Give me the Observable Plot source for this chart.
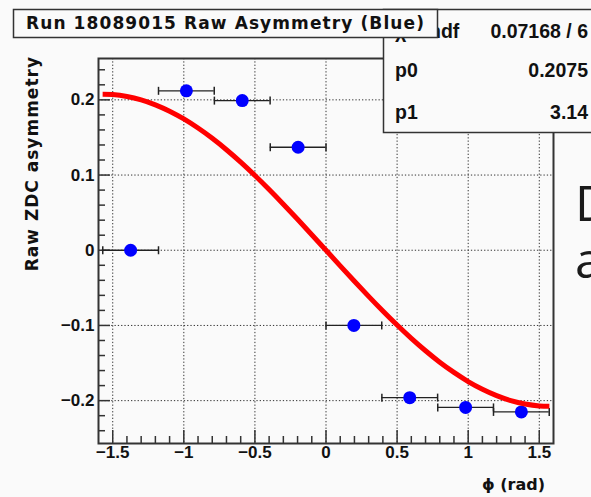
<!DOCTYPE html>
<html>
<head>
<meta charset="utf-8">
<script src="https://cdn.jsdelivr.net/npm/d3@7"></script>
<script src="https://cdn.jsdelivr.net/npm/@observablehq/plot@0.6"></script>
<style>
  html, body { margin: 0; padding: 0; background: #fafafa; overflow: hidden; }
  #chart svg { display: block; }
</style>
</head>
<body>
<div id="chart"></div>
<script>
// ---- Text ----
const titleText = "Run 18089015 Raw Asymmetry (Blue)";
const xTitle = "ϕ (rad)";
const yTitle = "Raw ZDC asymmetry";
const statNames = ["χ² / ndf", "p0", "p1"];
const statValues = ["0.07168 / 6", "0.2075", "3.14"];
const sideText = ["D", "a"];

// ---- Data points (bin centres, half-widths, asymmetry) ----
const phi    = [-1.374, -0.982, -0.589, -0.196, 0.196, 0.589, 0.982, 1.374];
const phiErr = [0.196, 0.196, 0.196, 0.196, 0.196, 0.196, 0.196, 0.196];
const asym   = [0.000, 0.212, 0.199, 0.137, -0.100, -0.196, -0.209, -0.215];

// ---- Fit curve ----
const fitPhi  = [-1.571, -1.5, -1.4, -1.3, -1.2, -1.1, -1.0, -0.9, -0.8, -0.7, -0.6, -0.5, -0.4, -0.3, -0.2, -0.1, 0,
                 0.1, 0.2, 0.3, 0.4, 0.5, 0.6, 0.7, 0.8, 0.9, 1.0, 1.1, 1.2, 1.3, 1.4, 1.5, 1.571];
const fitAsym = [0.2075, 0.2070, 0.2045, 0.2000, 0.1934, 0.1849, 0.1746, 0.1625, 0.1489, 0.1337, 0.1172, 0.0995, 0.0808, 0.0613, 0.0412, 0.0207, 0,
                 -0.0207, -0.0412, -0.0613, -0.0808, -0.0995, -0.1172, -0.1337, -0.1489, -0.1625, -0.1746, -0.1849, -0.1934, -0.2000, -0.2045, -0.2070, -0.2075];

// ---- Axes ----
const xDomain = [-1.6, 1.6];
const yDomain = [-0.257, 0.255];
const xTicks = [-1.5, -1, -0.5, 0, 0.5, 1, 1.5];
const xTickLabels = ["−1.5", "−1", "−0.5", "0", "0.5", "1", "1.5"];
const yTicks = [-0.2, -0.1, 0, 0.1, 0.2];
const yTickLabels = ["−0.2", "−0.1", "0", "0.1", "0.2"];
const xMinorTicks = [-1.4, -1.3, -1.2, -1.1, -0.9, -0.8, -0.7, -0.6, -0.4, -0.3, -0.2, -0.1,
                     0.1, 0.2, 0.3, 0.4, 0.6, 0.7, 0.8, 0.9, 1.1, 1.2, 1.3, 1.4];
const yMinorTicks = [-0.24, -0.22, -0.18, -0.16, -0.14, -0.12, -0.08, -0.06, -0.04, -0.02,
                     0.02, 0.04, 0.06, 0.08, 0.12, 0.14, 0.16, 0.18, 0.22, 0.24];

// ---- Build tables ----
const points = phi.map((p, i) => ({phi: p, lo: p - phiErr[i], hi: p + phiErr[i], asym: asym[i]}));
const fit = fitPhi.map((p, i) => ({phi: p, asym: fitAsym[i]}));

const W = 591, H = 497;
const M = {left: 98, right: 38, top: 58, bottom: 54};
const innerW = W - M.left - M.right;
const innerH = H - M.top - M.bottom;

const capSymbol = {
  draw(ctx, size) {
    const h = Math.sqrt(size / Math.PI);
    ctx.moveTo(0, -h);
    ctx.lineTo(0, h);
  }
};

const labelFont = "Liberation Sans, Arial, sans-serif";
const ink = "#111";

const chart = Plot.plot({
  width: W,
  height: H,
  marginLeft: M.left,
  marginRight: M.right,
  marginTop: M.top,
  marginBottom: M.bottom,
  style: {background: "#fafafa", fontFamily: labelFont},
  x: {domain: xDomain, axis: null},
  y: {domain: yDomain, axis: null},
  marks: [
    Plot.gridX(xTicks, {stroke: "#333", strokeOpacity: 1, strokeWidth: 1, strokeDasharray: "1.3,2"}),
    Plot.gridY(yTicks, {stroke: "#333", strokeOpacity: 1, strokeWidth: 1, strokeDasharray: "1.3,2"}),
    // ticks (inside the frame, bottom and left only)
    Plot.tickX(xTicks, {x: d => d, stroke: "#333", strokeWidth: 1.5, insetTop: innerH - 13}),
    Plot.tickX(xMinorTicks, {x: d => d, stroke: "#333", strokeWidth: 1.5, insetTop: innerH - 7}),
    Plot.tickY(yTicks, {y: d => d, stroke: "#333", strokeWidth: 1.5, insetRight: innerW - 12}),
    Plot.tickY(yMinorTicks, {y: d => d, stroke: "#333", strokeWidth: 1.5, insetRight: innerW - 7}),
    // tick labels
    Plot.text(xTicks, {x: d => d, frameAnchor: "bottom", dy: 14, text: (d, i) => xTickLabels[i],
      fontSize: 17, fontWeight: "bold", fontFamily: labelFont, fill: ink}),
    Plot.text(yTicks, {y: d => d, frameAnchor: "left", dx: -4, textAnchor: "end", text: (d, i) => yTickLabels[i],
      fontSize: 17, fontWeight: "bold", fontFamily: labelFont, fill: ink}),
    // horizontal error bars with end caps
    Plot.ruleY(points, {y: "asym", x1: "lo", x2: "hi", stroke: "#222", strokeWidth: 1.3}),
    Plot.dot(points, {x: "lo", y: "asym", r: 4, symbol: capSymbol, stroke: "#222", strokeWidth: 1.5, fill: "none"}),
    Plot.dot(points, {x: "hi", y: "asym", r: 4, symbol: capSymbol, stroke: "#222", strokeWidth: 1.5, fill: "none"}),
    // markers
    Plot.dot(points, {x: "phi", y: "asym", r: 6.5, fill: "#0000ff", stroke: "none"}),
    // fit
    Plot.line(fit, {x: "phi", y: "asym", stroke: "#ff0000", strokeWidth: 5, curve: "natural", strokeLinecap: "butt"}),
    Plot.frame({stroke: "#333", strokeWidth: 2})
  ]
});

document.getElementById("chart").appendChild(chart);

const svg = d3.select(chart);
const titleFont = "DejaVu Sans, sans-serif";

// axis titles
svg.append("text")
  .attr("transform", "translate(38,56) rotate(-90)")
  .attr("text-anchor", "end")
  .attr("font-family", titleFont).attr("font-weight", "bold").attr("font-size", 17)
  .attr("letter-spacing", 1).attr("fill", ink)
  .text(yTitle);

svg.append("text")
  .attr("x", 545).attr("y", 490)
  .attr("text-anchor", "end")
  .attr("font-family", titleFont).attr("font-weight", "bold").attr("font-size", 16)
  .attr("fill", ink)
  .text(xTitle);

// statistics box
svg.append("rect")
  .attr("x", 383.5).attr("y", 9.5).attr("width", 240).attr("height", 123)
  .attr("fill", "#fafafa").attr("stroke", "#333").attr("stroke-width", 1.5);
const rowY = [37.5, 77, 119];
statNames.forEach((t, i) => {
  svg.append("text").attr("x", 395).attr("y", rowY[i]).attr("text-anchor", "start")
    .attr("font-family", labelFont).attr("font-weight", "bold").attr("font-size", 19.5)
    .attr("fill", ink).text(t);
  svg.append("text").attr("x", 588).attr("y", rowY[i]).attr("text-anchor", "end")
    .attr("font-family", labelFont).attr("font-weight", "bold").attr("font-size", 19.5)
    .attr("fill", ink).text(statValues[i]);
});

// title box (drawn over the stats box)
svg.append("rect")
  .attr("x", 13.5).attr("y", 9.5).attr("width", 424).attr("height", 28)
  .attr("fill", "#fafafa").attr("stroke", "#333").attr("stroke-width", 1.5);
svg.append("text")
  .attr("x", 26).attr("y", 29).attr("text-anchor", "start")
  .attr("font-family", titleFont).attr("font-weight", "bold").attr("font-size", 17)
  .attr("letter-spacing", 1.1).attr("fill", ink)
  .text(titleText);

// slide text cut off at the right edge (one block, two lines)
const side = svg.append("text").attr("text-anchor", "start")
  .attr("font-family", "Open Sans, sans-serif").attr("font-size", 50)
  .attr("fill", "#1a1a1a");
sideText.forEach((t, i) => {
  side.append("tspan").attr("x", 575).attr("y", [221, 278][i]).text(t);
});
</script>
</body>
</html>
